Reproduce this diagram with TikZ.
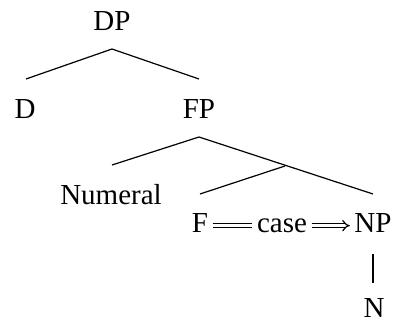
\documentclass[tikz,border=0pt]{standalone}
\usepackage{fontspec}
\setmainfont{Liberation Serif}
\usetikzlibrary{arrows.meta}
\begin{document}
\begin{tikzpicture}[x=0.5pt,y=-0.5pt,line width=0.6pt,
    every node/.style={font=\fontsize{14.5}{17}\selectfont,inner sep=2pt,
      anchor=base,text height=1.9ex,text depth=0.3ex},
    feature/.style={double,double distance=1.3pt}]
    \useasboundingbox (0,0) rectangle (393,322);
    % labels
    \node (DP) at (112,30) {DP};
    \node (D) at (25,118) {D};
    \node (FP) at (199,118) {FP};
    \node (Numeral) at (111,205) {Numeral};
    \node (F) at (200,233) {F};
    \node (case) at (282,233) {case};
    \node (NP) at (373,233) {NP};
    \node (N) at (374,318) {N};
    % branch points
    \coordinate (DP-b) at (112,49);
    \coordinate (D-t) at (26,79);
    \coordinate (FP-t) at (199,79);
    \coordinate (FP-b) at (199,137);
    \coordinate (Numeral-t) at (112,165);
    \coordinate (Fbar) at (285,166);
    \coordinate (F-t) at (200,194);
    \coordinate (NP-t) at (373,194);
    \coordinate (NP-b) at (373,254);
    \coordinate (N-t) at (373,283);
    \draw (D-t) -- (DP-b) -- (FP-t);
    \draw (Numeral-t) -- (FP-b) -- (NP-t);
    \draw (Fbar) -- (F-t);
    \draw (NP-b) -- (N-t);
    \draw[feature] (F) -- (case);
    \draw[feature,-{Implies[scale=1.2]}] (case) -- (NP);
\end{tikzpicture}
\end{document}
